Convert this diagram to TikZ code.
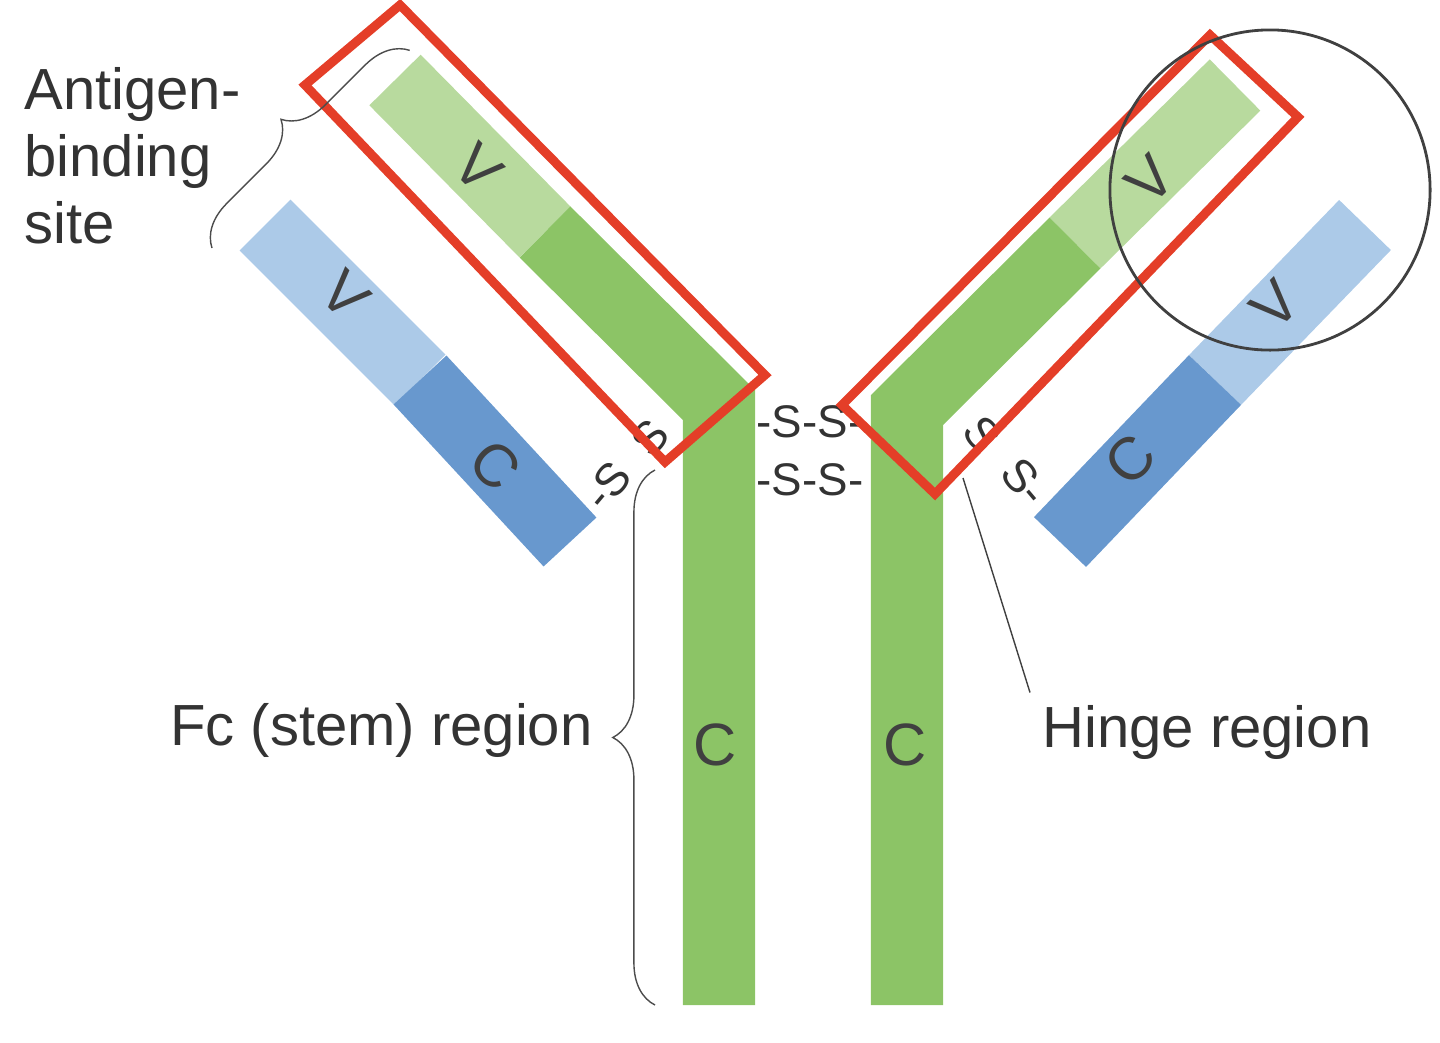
\documentclass[tikz,border=0pt]{standalone}
\usepackage{fontspec}
\setmainfont{Liberation Sans}
\usetikzlibrary{decorations.pathreplacing, positioning}

\definecolor{vgreen}{RGB}{184,218,158}
\definecolor{cgreen}{RGB}{140,196,102}
\definecolor{vblue}{RGB}{172,202,232}
\definecolor{cblue}{RGB}{104,152,206}
\definecolor{boxred}{RGB}{228,62,40}

\begin{document}
\begin{tikzpicture}[x=0.01cm, y=-0.01cm,
    band/.style={line width=0.72cm, line cap=butt, line join=miter},
    lbl/.style={font=\fontsize{16.5}{19}\selectfont, text=black!80},
    dom/.style={font=\fontsize{17}{19}\selectfont, text=black!75},
    ss/.style={font=\fontsize{13}{15}\selectfont, text=black!80, inner sep=0pt},
    redbox/.style={draw=boxred, line width=0.09cm, line join=miter},
    brc/.style={draw=black!70, thin, decorate, decoration={brace, amplitude=12pt}}]
  \useasboundingbox (0,0) rectangle (1440,1042);

  % light chains
  \draw[band, vblue] (265,225) -- (420,380);
  \draw[band, cblue] (420,380) -- (570,542);
  \draw[band, vblue] (1365,225) -- (1215,380);
  \draw[band, cblue] (1215,380) -- (1060,542);

  % heavy chains
  \draw[band, vgreen] (395,80) -- (545,232);
  \draw[band, cgreen] (545,232) -- (719,405) -- (719,1005);
  \draw[band, vgreen] (1235,85) -- (1075,243);
  \draw[band, cgreen] (1075,243) -- (907,410) -- (907,1005);

  % domain letters
  \node[dom, rotate=-45] (vhl) at (478,168) {V};
  \node[dom, rotate=-45] (vll) at (345,295) {V};
  \node[dom, rotate=-45] (cll) at (495,465) {C};
  \node[dom, rotate=45] (vhr) at (1150,180) {V};
  \node[dom, rotate=45] (vlr) at (1275,305) {V};
  \node[dom, rotate=45] (clr) at (1130,460) {C};
  \node[dom] (chl) at (715,745) {C};
  \node[dom] (chr) at (905,745) {C};

  % disulfide bonds
  \node[ss] (ss1) at (810,422) {-S-S-};
  \node[ss] (ss2) at (810,480) {-S-S-};
  \node[ss, rotate=50] (ssl1) at (607,486) {-S};
  \node[ss, rotate=50] (ssl2) at (650,438) {S};
  \node[ss, rotate=-50] (ssr1) at (982,434) {S};
  \node[ss, rotate=-50] (ssr2) at (1025,482) {S-};

  % highlights
  \draw[redbox] (305,85) -- (400,5) -- (765,375) -- (665,462) -- cycle;
  \draw[redbox] (842,405) -- (1210,35) -- (1298,117) -- (935,494) -- cycle;
  \node[draw=black!75, thick, circle, minimum size=3.2cm] (site) at (1270,190) {};

  % labels
  \node[lbl, align=left, anchor=north west] (agtext) at (12,55) {Antigen-\\binding\\site};
  \draw[brc] (212,248) -- (410,50);
  \node[lbl, anchor=east] (fctext) at (605,730) {Fc (stem) region};
  \draw[brc] (655,1005) -- (655,470);
  \node[lbl, anchor=west] (hgtext) at (1030,732) {Hinge region};
  \coordinate (hinge) at (963,478);
  \draw[black!75, thin] (hgtext.north west) -- (hinge);
\end{tikzpicture}
\end{document}
